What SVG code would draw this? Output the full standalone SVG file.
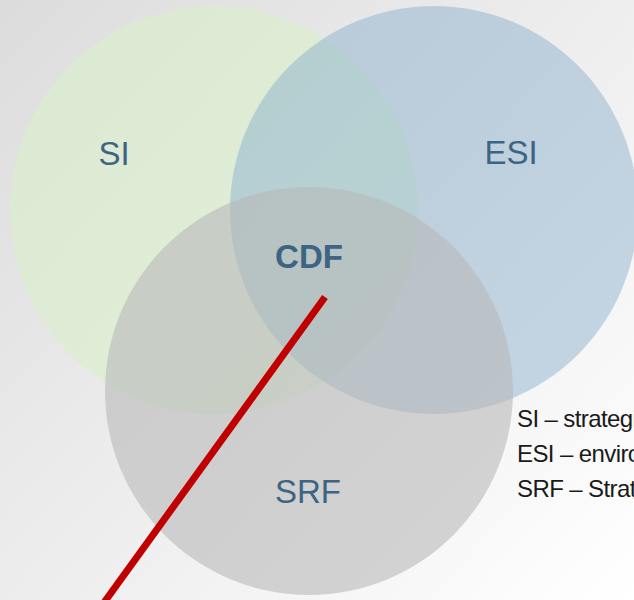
<svg xmlns="http://www.w3.org/2000/svg" width="634" height="600" viewBox="0 0 634 600">
  <defs>
    <linearGradient id="bg" gradientUnits="userSpaceOnUse" x1="0" y1="0" x2="634" y2="600">
      <stop offset="0" stop-color="#dcdcdc"/>
      <stop offset="1" stop-color="#ffffff"/>
    </linearGradient>
  </defs>
  <style>
    .lbl { font-family: "Liberation Sans", Arial, sans-serif; font-size: 33px; fill: #3d6483; text-anchor: middle; }
    .bold { font-weight: bold; }
    .legend { font-family: "Liberation Sans", Arial, sans-serif; font-size: 24px; letter-spacing: -0.6px; fill: #1a1a1a; }
  </style>
  <rect width="634" height="600" fill="url(#bg)"/>
  <g id="node-si">
    <circle cx="214" cy="210" r="204" fill="#d8f0cc" fill-opacity="0.6"/>
  </g>
  <g id="node-esi">
    <circle cx="434" cy="210" r="204" fill="#88afcb" fill-opacity="0.47"/>
  </g>
  <g id="node-srf">
    <circle cx="309" cy="391" r="204" fill="#b8b8b8" fill-opacity="0.59"/>
  </g>
  <g id="labels">
    <text class="lbl" x="114" y="165">SI</text>
    <text class="lbl" x="511" y="164">ESI</text>
    <text class="lbl bold" x="309" y="268">CDF</text>
    <text class="lbl" x="308" y="503">SRF</text>
  </g>
  <g id="connectors">
    <line x1="325" y1="297" x2="103" y2="604" stroke="#c00000" stroke-width="7"/>
  </g>
  <g id="legend">
    <text class="legend" x="517" y="427">SI – strategic</text>
    <text class="legend" x="517" y="462">ESI – environmental</text>
    <text class="legend" x="517" y="497">SRF – Strategic</text>
  </g>
</svg>
